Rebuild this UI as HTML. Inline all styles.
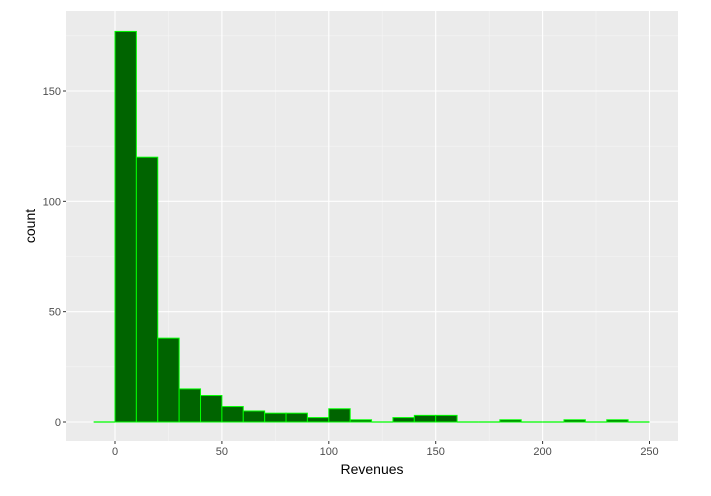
<!DOCTYPE html>
<html><head><meta charset="utf-8"><style>
body{margin:0;background:#fff;}
svg text{font-family:"Liberation Sans",sans-serif;}
</style></head><body>
<svg id="chart" width="711" height="491" xmlns="http://www.w3.org/2000/svg"></svg>
<script>
const binStarts=[-10,0,10,20,30,40,50,60,70,80,90,100,110,120,130,140,150,160,170,180,190,200,210,220,230,240];
const counts=[0,177,120,38,15,12,7,5,4,4,2,6,1,0,2,3,3,0,0,1,0,0,1,0,1,0];
const binWidth=10;
const xTicks=[0,50,100,150,200,250];
const yTicks=[0,50,100,150];
const xMinor=[25,75,125,175,225];
const yMinor=[25,75,125,175];

const svg=document.getElementById('chart');
const NS='http://www.w3.org/2000/svg';
const PL=66,PR=678,PT=11,PB=441;
const X=v=>115+(v-0)*(649.5-115)/250;
const Y=v=>422-v*(422-91)/150;
function mk(t,a,p){const e=document.createElementNS(NS,t);for(const k in a)e.setAttribute(k,a[k]);(p||svg).appendChild(e);return e;}

const panel=mk('rect',{x:PL,y:PT,width:PR-PL,height:PB-PT,fill:'#ebebeb'});


xMinor.forEach(v=>{const l=mk('line',{x1:X(v),x2:X(v),y1:PT,y2:PB,stroke:'#f5f5f5','stroke-width':0.6});

});
yMinor.forEach(v=>{const l=mk('line',{x1:PL,x2:PR,y1:Y(v),y2:Y(v),stroke:'#f5f5f5','stroke-width':0.6});

});
xTicks.forEach(v=>{const l=mk('line',{x1:X(v),x2:X(v),y1:PT,y2:PB,stroke:'#fff','stroke-width':1.1});


const tk=mk('line',{x1:X(v),x2:X(v),y1:PB,y2:PB+3,stroke:'#333','stroke-width':1});


const t=mk('text',{x:X(v),y:PB+14,'text-anchor':'middle','font-size':11,fill:'#4d4d4d'});t.textContent=v;

});
yTicks.forEach(v=>{const l=mk('line',{x1:PL,x2:PR,y1:Y(v),y2:Y(v),stroke:'#fff','stroke-width':1.1});


const tk=mk('line',{x1:PL-3,x2:PL,y1:Y(v),y2:Y(v),stroke:'#333','stroke-width':1});


const t=mk('text',{x:PL-5,y:Y(v)+4,'text-anchor':'end','font-size':11,fill:'#4d4d4d'});t.textContent=v;

});
binStarts.forEach((s,i)=>{const x0=X(s),x1=X(s+binWidth),y=Y(counts[i]);
if(counts[i]===0){
const z=mk('line',{x1:x0,x2:x1,y1:Y(0),y2:Y(0),stroke:'#00ff00','stroke-width':1.2});


return;}
const r=mk('rect',{x:x0,y:y,width:x1-x0,height:Y(0)-y,fill:'#006400',stroke:'#00ff00','stroke-width':1});

});
const xt=mk('text',{x:(PL+PR)/2,y:474,'text-anchor':'middle','font-size':14,fill:'#000'});xt.textContent='Revenues';


const yt=mk('text',{x:0,y:0,'text-anchor':'middle','font-size':14,fill:'#000',transform:`translate(35,${(PT+PB)/2}) rotate(-90)`});yt.textContent='count';


</script>
</body></html>
